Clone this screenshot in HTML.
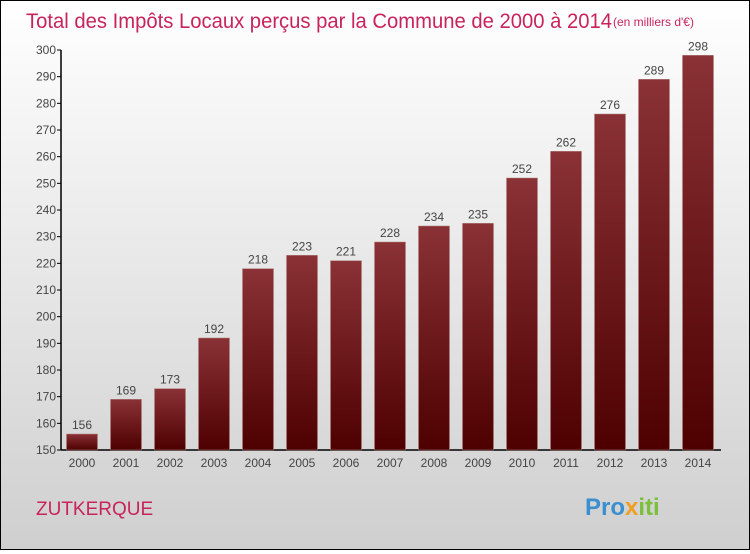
<!DOCTYPE html>
<html><head><meta charset="utf-8"><style>
html,body{margin:0;padding:0}
body{width:750px;height:550px;overflow:hidden;font-family:"Liberation Sans",sans-serif}
#wrap{position:absolute;left:0;top:0;width:748px;height:548px;border:1px solid #000;background:linear-gradient(#ffffff,#cfcfcf)}
</style></head><body>
<div id="wrap">
<svg width="748" height="548" xmlns="http://www.w3.org/2000/svg" id="chart">
<defs><linearGradient id="bg" x1="0" y1="0" x2="0" y2="1"><stop offset="0" stop-color="#8a3236"/><stop offset="1" stop-color="#4e0000"/></linearGradient></defs>
<text x="25" y="27" font-size="21" fill="#c8245a" font-family="Liberation Sans, sans-serif" textLength="586" lengthAdjust="spacingAndGlyphs">Total des Impôts Locaux perçus par la Commune de 2000 à 2014</text>
<text x="612" y="25" font-size="12" fill="#c8245a">(en milliers d'€)</text>
<text x="35" y="514" font-size="19" fill="#c8245a">ZUTKERQUE</text>
<text x="584" y="514" font-size="24" font-weight="bold"><tspan fill="#3a8fd0">Pro</tspan><tspan fill="#f0a020">x</tspan><tspan fill="#7bbf3a">iti</tspan></text>
<g id="axes"></g><g id="bars"></g>
</svg></div>
<script>
const categories=["2000","2001","2002","2003","2004","2005","2006","2007","2008","2009","2010","2011","2012","2013","2014"];
const values=[156,169,173,192,218,223,221,228,234,235,252,262,276,289,298];
const yTicks=[150,160,170,180,190,200,210,220,230,240,250,260,270,280,290,300];
const NS="http://www.w3.org/2000/svg";
const y0=449,y1=49,vmin=150,vmax=300;
function yScale(v){return y0-(v-vmin)/(vmax-vmin)*(y0-y1);}
function xScale(i){return 81+i*44;}
const axes=document.getElementById('axes'),bars=document.getElementById('bars');
function mk(tag,attrs,parent){const e=document.createElementNS(NS,tag);for(const k in attrs)e.setAttribute(k,attrs[k]);parent.appendChild(e);return e;}
const ax=mk('line',{x1:60,y1:y1,x2:60,y2:y0,stroke:'#000','stroke-width':1.5},axes);


const bx=mk('line',{x1:60,y1:y0,x2:720,y2:y0,stroke:'#000','stroke-width':1.5},axes);


yTicks.forEach(t=>{const y=yScale(t);
 const l=mk('line',{x1:56,y1:y,x2:60,y2:y,stroke:'#000'},axes);
 
 
 const tx=mk('text',{x:55,y:y+4,'font-size':12,fill:'#444','text-anchor':'end'},axes);tx.textContent=t;
 
 
});
categories.forEach((c,i)=>{const x=xScale(i),v=values[i],y=yScale(v);
 const r=mk('rect',{x:x-15.5,y:y,width:31,height:y0-y,fill:'url(#bg)',stroke:'#b08080','stroke-width':0.5},bars);
 
 
 const vl=mk('text',{x:x,y:y-5,'font-size':12,fill:'#444','text-anchor':'middle'},bars);vl.textContent=v;
 
 
 const xl=mk('text',{x:x,y:466,'font-size':12,fill:'#444','text-anchor':'middle'},bars);xl.textContent=c;
 
 
});
</script>
</body></html>
